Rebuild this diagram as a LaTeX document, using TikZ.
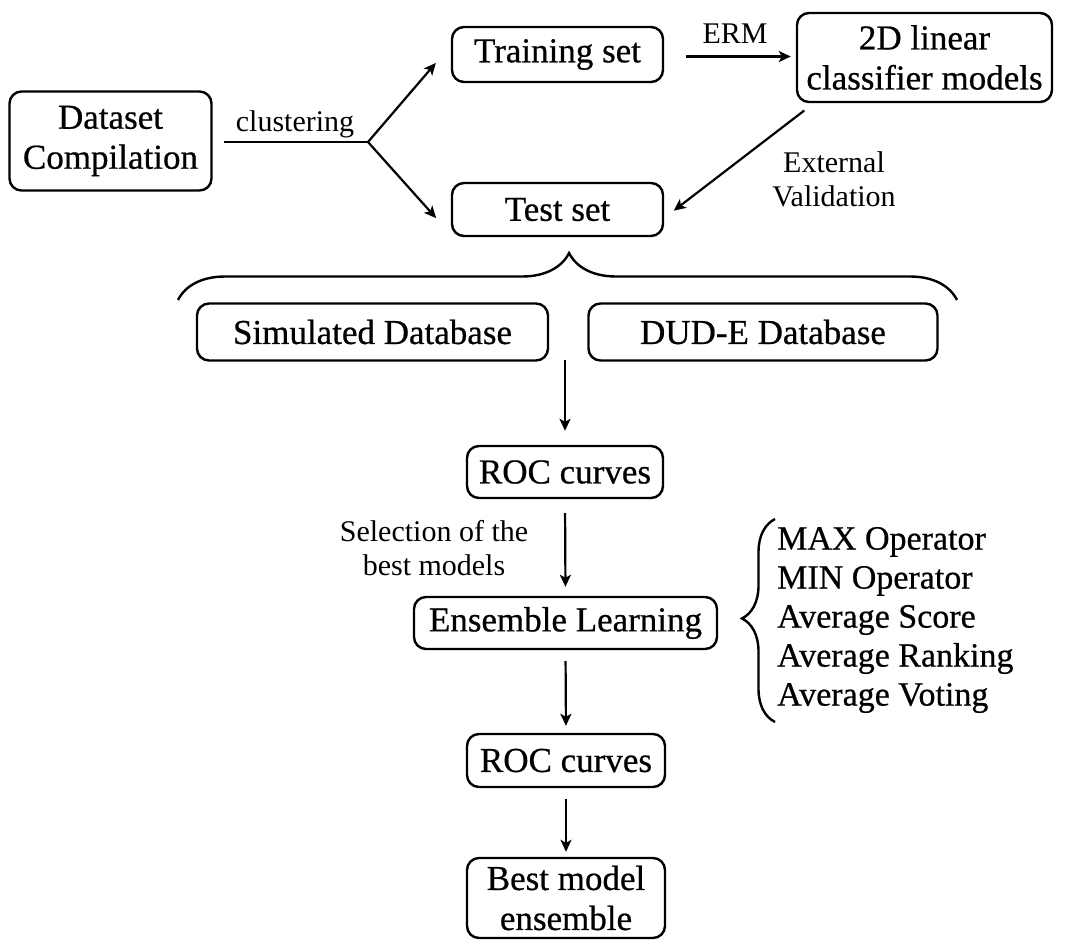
\documentclass[tikz,border=0pt]{standalone}
\usepackage{fontspec}
\setmainfont{Liberation Serif}
\newfontfamily\nodefont{Liberation Serif}[FakeBold=0.6]
\usetikzlibrary{arrows.meta,decorations.pathreplacing,calc}
\begin{document}
\begin{tikzpicture}[x=1pt,y=-1pt,
  box/.style={draw,line width=2.4pt,rounded corners=12pt,inner sep=0pt,align=center,
    font=\nodefont\fontsize{35}{40}\selectfont},
  lbl/.style={align=center,inner sep=0pt,font=\rmfamily\fontsize{30}{34}\selectfont},
  arr/.style={line width=2.2pt,-{Stealth[length=12pt,width=11pt,inset=3pt]}},
  brc/.style={line width=2.4pt,decorate}
]
\useasboundingbox (0,0) rectangle (1070,940);

\node[box,minimum width=202pt,minimum height=99pt] (dc) at (110.5,141) {Dataset\\Compilation};
\node[box,minimum width=211pt,minimum height=55pt] (train) at (557.5,54.5) {Training set};
\node[box,minimum width=211pt,minimum height=53pt] (test) at (557.5,209.5) {Test set};
\node[box,minimum width=255pt,minimum height=89pt] (clf) at (924.5,57.5) {2D linear\\classifier models};
\node[box,minimum width=351pt,minimum height=57pt] (sim) at (372.5,332) {Simulated Database};
\node[box,minimum width=349pt,minimum height=57pt] (dud) at (763,332) {DUD-E Database};
\node[box,minimum width=196pt,minimum height=52pt] (roc1) at (565,472) {ROC curves};
\node[box,minimum width=303pt,minimum height=52pt] (ens) at (565.5,623) {Ensemble Learning};
\node[box,minimum width=198pt,minimum height=53pt] (roc2) at (566,760.5) {ROC curves};
\node[box,minimum width=198pt,minimum height=80pt] (best) at (566,898) {Best model\\ensemble};

\coordinate (branch) at (368,142);
\coordinate (mid) at (565,360);

% clustering split
\draw[line width=2.2pt] ([xshift=11pt]dc.east |- branch) -- (branch);
\draw[arr,shorten >=23pt] (branch) -- ([yshift=9pt]train.west);
\draw[arr,shorten >=22pt] (branch) -- ([yshift=-25pt]test.west);
\node[lbl] (lclust) at (295,124) {clustering};

% ERM
\draw[arr,shorten <=22pt,shorten >=5pt] ([yshift=-2pt]train.east) -- ([yshift=-2pt]train.east -| clf.west);
\node[lbl] (lerm) at (735,34) {ERM};

% External validation
\draw[arr,shorten <=12pt,shorten >=12pt] ([xshift=18pt]clf.south west) -- ([yshift=-8.5pt]test.east);
\node[lbl] (lext) at (834,179) {External\\Validation};

% brace under test set
\draw[brc,decoration={brace,amplitude=47pt,aspect=0.502}] (178,300) -- (957,300);

% vertical flow
\draw[arr,shorten >=14pt] (mid) -- (roc1.north);
\draw[arr,shorten <=14pt,shorten >=9pt] (roc1.south) -- (ens.north);
\node[lbl] (lsel) at (434,548) {Selection of the\\best models};
\draw[arr,shorten <=11pt,shorten >=7pt] (ens.south) -- (roc2.north);
\draw[arr,shorten <=11pt,shorten >=5pt] (roc2.south) -- (best.north);

% methods list with brace
\draw[brc,decoration={brace,amplitude=33pt,aspect=0.51}] (775,722) -- (775,519);
\node[anchor=west,align=left,inner sep=0pt,font=\nodefont\fontsize{34}{39}\selectfont] (meth) at (777,620)
  {MAX Operator\\MIN Operator\\Average Score\\Average Ranking\\Average Voting};
\end{tikzpicture}
\end{document}
